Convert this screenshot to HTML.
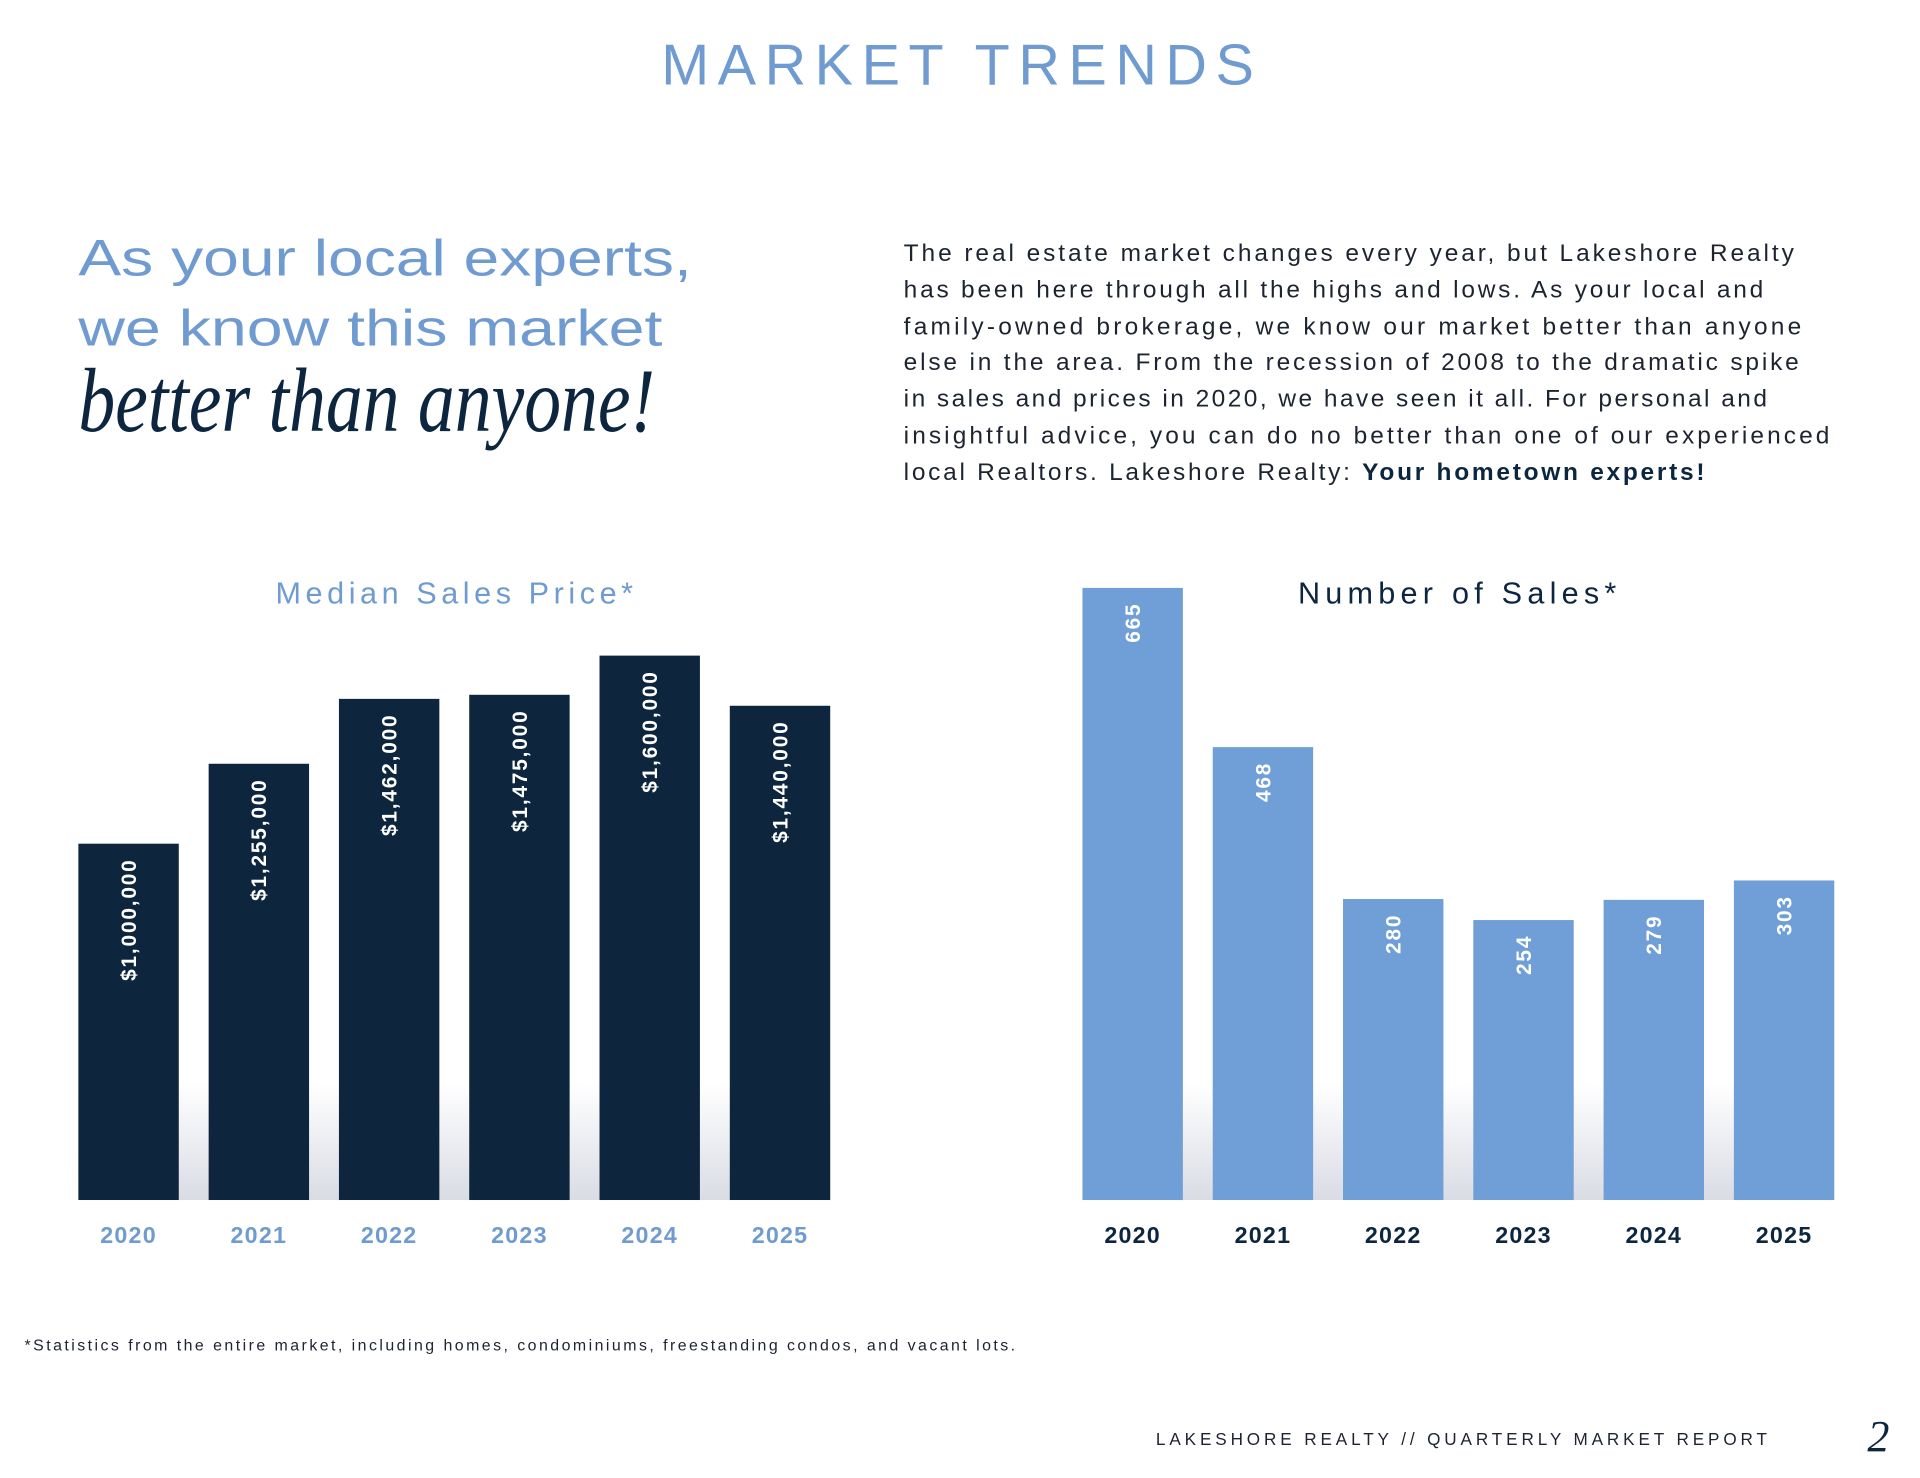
<!DOCTYPE html>
<html><head><meta charset="utf-8"><style>
html,body{margin:0;padding:0;background:#fff;}
svg{display:block;}
text{font-family:"Liberation Sans",sans-serif;}
</style></head><body>
<svg id="page" width="1920" height="1478" viewBox="0 0 1568 1207" xmlns="http://www.w3.org/2000/svg">
<defs>
<linearGradient id="fade" x1="0" y1="0" x2="0" y2="1">
<stop offset="0" stop-color="#ffffff"/><stop offset="1" stop-color="#d9dce4"/>
</linearGradient>
</defs>
<text x="782" y="69" text-anchor="middle" font-size="47" fill="#6f9bd1" textLength="484" lengthAdjust="spacing">MARKET TRENDS</text>
<g fill="#6f9bd1" font-size="42">
<text x="64" y="225" textLength="501" lengthAdjust="spacingAndGlyphs">As your local experts,</text>
<text x="64" y="282" textLength="477" lengthAdjust="spacingAndGlyphs">we know this market</text>
</g>
<text x="64" y="352" font-size="74" font-style="italic" fill="#0d2640" style="font-family:'Liberation Serif',serif" textLength="471" lengthAdjust="spacingAndGlyphs">better than anyone!</text>
<g fill="#1d2430" font-size="20">
<text x="738" y="213" textLength="727" lengthAdjust="spacing">The real estate market changes every year, but Lakeshore Realty</text>
<text x="738" y="243" textLength="702" lengthAdjust="spacing">has been here through all the highs and lows. As your local and</text>
<text x="738" y="273" textLength="733" lengthAdjust="spacing">family-owned brokerage, we know our market better than anyone</text>
<text x="738" y="302" textLength="731" lengthAdjust="spacing">else in the area. From the recession of 2008 to the dramatic spike</text>
<text x="738" y="332" textLength="705" lengthAdjust="spacing">in sales and prices in 2020, we have seen it all. For personal and</text>
<text x="738" y="362" textLength="756" lengthAdjust="spacing">insightful advice, you can do no better than one of our experienced</text>
<text x="738" y="392" textLength="654" lengthAdjust="spacing">local Realtors. Lakeshore Realty: <tspan font-weight="bold" fill="#0d2640">Your hometown experts!</tspan></text>
</g>
<text x="371" y="493" text-anchor="middle" font-size="25" fill="#6f9bd1" textLength="292" lengthAdjust="spacing">Median Sales Price*</text>
<text x="1190" y="493" text-anchor="middle" font-size="25" fill="#0d2640" textLength="260" lengthAdjust="spacing">Number of Sales*</text>
<rect x="64" y="885" width="614" height="95" fill="url(#fade)"/>
<rect x="884" y="885" width="613" height="95" fill="url(#fade)"/>
<g id="priceBars"></g>
<g id="salesBars"></g>
<text x="20" y="1103" font-size="13" fill="#1d2430" textLength="809" lengthAdjust="spacing">*Statistics from the entire market, including homes, condominiums, freestanding condos, and vacant lots.</text>
<text x="944" y="1180" font-size="14" fill="#1d2430" textLength="499" lengthAdjust="spacing">LAKESHORE REALTY  //  QUARTERLY MARKET REPORT</text>
<text x="1525" y="1185" font-size="36" font-style="italic" fill="#0d2640" style="font-family:'Liberation Serif',serif">2</text>
</svg>
<script>
const years = ["2020","2021","2022","2023","2024","2025"];
const priceValues = [1000000,1255000,1462000,1475000,1600000,1440000];
const priceLabels = ["$1,000,000","$1,255,000","$1,462,000","$1,475,000","$1,600,000","$1,440,000"];
const salesValues = [665,468,280,254,279,303];
const salesLabels = ["665","468","280","254","279","303"];
const NS = "http://www.w3.org/2000/svg";
const BASE = 980;
function priceY(v){ return BASE - (35 + 256 * v / 1e6); }
function salesY(v){ return BASE - (61 + 0.66 * v); }
function draw(gid, x0, vals, labels, yFn, color, yearColor, prefix){
  const g = document.getElementById(gid);
  const pitch = 106.4, w = 82;
  vals.forEach((v,i)=>{
    const x = x0 + i*pitch, top = yFn(v);
    const r = document.createElementNS(NS,"rect");
    
    
    r.setAttribute("x",x); r.setAttribute("y",top); r.setAttribute("width",w); r.setAttribute("height",BASE-top);
    r.setAttribute("fill",color); g.appendChild(r);
    const t = document.createElementNS(NS,"text");
    
    
    const cx = x + w/2 + 6, cy = top + 12;
    t.setAttribute("x",cx); t.setAttribute("y",cy);
    t.setAttribute("transform","rotate(-90 "+cx+" "+cy+")");
    t.setAttribute("text-anchor","end"); t.setAttribute("font-size","17"); t.setAttribute("font-weight","bold");
    t.setAttribute("letter-spacing","1.5"); t.setAttribute("fill","#fff");
    t.textContent = labels[i]; g.appendChild(t);
    const yl = document.createElementNS(NS,"text");
    
    
    yl.setAttribute("x",x+w/2); yl.setAttribute("y",1015); yl.setAttribute("text-anchor","middle");
    yl.setAttribute("font-size","19"); yl.setAttribute("font-weight","bold"); yl.setAttribute("letter-spacing","1");
    yl.setAttribute("fill",yearColor); yl.textContent = years[i]; g.appendChild(yl);
  });
}
draw("priceBars",64,priceValues,priceLabels,priceY,"#0d263d","#6f9bd1","price");
draw("salesBars",884,salesValues,salesLabels,salesY,"#6f9fd6","#0d2640","sales");
</script>
</body></html>
